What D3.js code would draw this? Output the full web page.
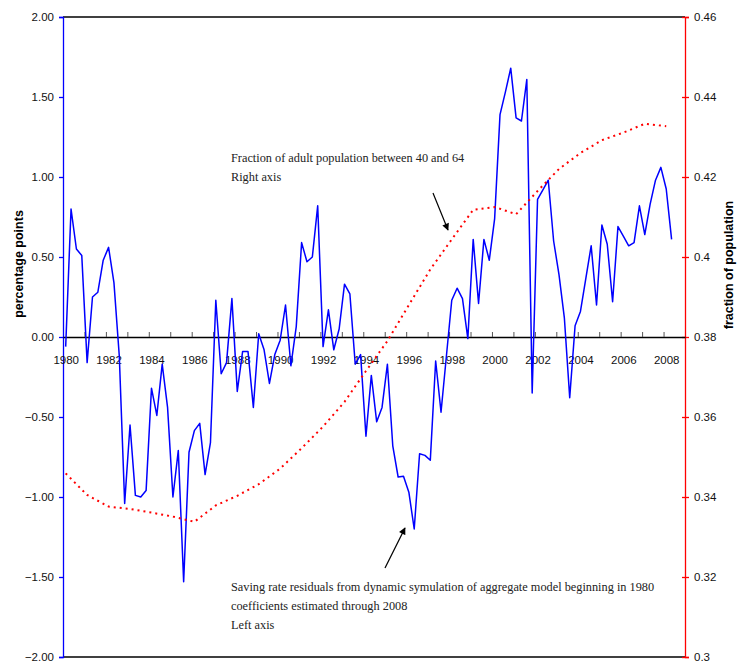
<!DOCTYPE html>
<html>
<head>
<meta charset="utf-8">
<script src="https://cdn.jsdelivr.net/npm/d3@7"></script>
<style>
  body { margin: 0; background: #fff; }
  svg { display: block; }
  .tick text { font-family: Arial, "Liberation Sans", sans-serif; font-size: 11.5px; fill: #111; }
  .note { font-family: "Times New Roman", "Liberation Serif", serif; font-size: 12.3px; fill: #222; }
  .title { font-family: Arial, "Liberation Sans", sans-serif; font-size: 12.5px; font-weight: bold; fill: #000; }
</style>
</head>
<body>
<svg id="chart" width="739" height="666"></svg>
<script>
// saving rate residuals, quarterly from 1980Q1 (left axis, percentage points)
const residuals = [
  -0.06, 0.80, 0.55, 0.51, -0.16, 0.25, 0.28, 0.48,
  0.56, 0.34, -0.12, -1.04, -0.55, -0.99, -1.00, -0.96,
  -0.32, -0.49, -0.17, -0.44, -1.00, -0.71, -1.53, -0.72,
  -0.585, -0.54, -0.86, -0.66, 0.23, -0.23, -0.16, 0.24,
  -0.34, -0.09, -0.09, -0.44, 0.02, -0.08, -0.29, -0.11,
  -0.02, 0.20, -0.18, 0.065, 0.59, 0.47, 0.50, 0.82,
  -0.06, 0.17, -0.08, 0.05, 0.33, 0.27, -0.17, -0.11,
  -0.62, -0.24, -0.53, -0.44, -0.17, -0.68, -0.875, -0.87,
  -0.97, -1.20, -0.73, -0.74, -0.77, -0.15, -0.47, -0.12,
  0.23, 0.305, 0.24, -0.01, 0.61, 0.21, 0.61, 0.48,
  0.74, 1.39, 1.53, 1.68, 1.37, 1.35, 1.61, -0.35,
  0.86, 0.92, 0.98, 0.60, 0.39, 0.12, -0.38, 0.07,
  0.16, 0.365, 0.57, 0.20, 0.70, 0.58, 0.22, 0.69,
  0.63, 0.57, 0.59, 0.82, 0.64, 0.83, 0.98, 1.06,
  0.925, 0.61
];

// fraction of adult population aged 40-64, read at the first quarter of each year (right axis)
const popYears = [
  1980, 1981, 1982, 1983, 1984, 1985, 1986, 1987, 1988, 1989,
  1990, 1991, 1992, 1993, 1994, 1995, 1996, 1997, 1998, 1999,
  2000, 2001, 2002, 2003, 2004, 2005, 2006, 2007, 2008
];
const popShare = [
  0.3459, 0.3405, 0.3376, 0.3370, 0.3361, 0.3351, 0.3338, 0.3379, 0.3403, 0.3432,
  0.3471, 0.3522, 0.3576, 0.3638, 0.3715, 0.3790, 0.3880, 0.3969, 0.4044, 0.4118,
  0.4125, 0.4107, 0.4165, 0.4220, 0.4260, 0.4292, 0.4311, 0.4333, 0.4327
];

const yearLabels = ["1980", "1982", "1984", "1986", "1988", "1990", "1992", "1994",
  "1996", "1998", "2000", "2002", "2004", "2006", "2008"];
const leftTicks = [2, 1.5, 1, 0.5, 0, -0.5, -1, -1.5, -2];
const rightTicks = ["0.46", "0.44", "0.42", "0.4", "0.38", "0.36", "0.34", "0.32", "0.3"];

const firstYear = 1980;
const nQuarters = 116;   // 1980Q1 .. 2008Q4

const width = 739, height = 666;
const margin = {top: 17, right: 54, bottom: 9, left: 63};

const svg = d3.select("#chart");

const x = d3.scaleLinear()
  .domain([0, nQuarters])
  .range([margin.left, width - margin.right]);
const yL = d3.scaleLinear()
  .domain([-2, 2])
  .range([height - margin.bottom, margin.top]);
const yR = d3.scaleLinear()
  .domain([0.3, 0.46])
  .range([height - margin.bottom, margin.top]);

// frame top and bottom
svg.append("g")
  .selectAll("line")
  .data(yL.range())
  .join("line")
  .attr("x1", x.range()[0]).attr("x2", x.range()[1])
  .attr("y1", d => d).attr("y2", d => d)
  .attr("stroke", "#000").attr("stroke-width", 1.3);

// left axis
const gLeft = svg.append("g")
  .attr("transform", `translate(${margin.left},0)`)
  .call(d3.axisLeft(yL).tickValues(leftTicks).tickFormat(d3.format(".2f")).tickSize(4).tickPadding(5));
gLeft.select(".domain").attr("stroke", "#0000ff").attr("stroke-width", 1.3);
gLeft.selectAll(".tick line").attr("stroke", "#0000ff").attr("stroke-width", 1.3);

// right axis
const gRight = svg.append("g")
  .attr("transform", `translate(${width - margin.right},0)`)
  .call(d3.axisRight(yR).tickValues(rightTicks.map(Number)).tickFormat((d, i) => rightTicks[i]).tickSize(4).tickPadding(5));
gRight.select(".domain").attr("stroke", "#ff0000").attr("stroke-width", 1.3);
gRight.selectAll(".tick line").attr("x1", -3).attr("stroke", "#ff0000").attr("stroke-width", 1.3);

// category axis on the zero line
const gX = svg.append("g")
  .attr("transform", `translate(0,${yL(0)})`)
  .call(d3.axisTop(x).tickValues(d3.range(4, nQuarters, 4)).tickFormat("").tickSize(5).tickSizeOuter(0));
gX.select(".domain").attr("stroke", "#000").attr("stroke-width", 1.3);
gX.selectAll(".tick line").attr("stroke", "#555");

svg.append("g")
  .attr("transform", `translate(0,${yL(0)})`)
  .call(d3.axisBottom(x)
    .tickValues(yearLabels.map(y => (+y - firstYear) * 4 + 0.5))
    .tickFormat((d, i) => yearLabels[i])
    .tickSize(0).tickPadding(19))
  .call(g => g.select(".domain").remove());

// series
const blueLine = d3.line()
  .x((d, i) => x(i + 0.5))
  .y(d => yL(d));
svg.append("path")
  .datum(residuals)
  .attr("fill", "none")
  .attr("stroke", "#0000ff")
  .attr("stroke-width", 1.5)
  .attr("stroke-linejoin", "round")
  .attr("d", blueLine);

const redLine = d3.line()
  .x((d, i) => x((popYears[i] - firstYear) * 4 + 0.5))
  .y(d => yR(d));
svg.append("path")
  .datum(popShare)
  .attr("fill", "none")
  .attr("stroke", "#ff0000")
  .attr("stroke-width", 2)
  .attr("stroke-dasharray", "2,4")
  .attr("d", redLine);

// axis titles
svg.append("text")
  .attr("class", "title")
  .attr("transform", "translate(23,264) rotate(-90)")
  .attr("text-anchor", "middle")
  .text("percentage points");
svg.append("text")
  .attr("class", "title")
  .attr("transform", "translate(733,265) rotate(-90)")
  .attr("text-anchor", "middle")
  .text("fraction of population");

// annotations
svg.append("defs").append("marker")
  .attr("id", "head")
  .attr("viewBox", "0 0 10 10")
  .attr("refX", 9).attr("refY", 5)
  .attr("markerWidth", 8).attr("markerHeight", 7)
  .attr("markerUnits", "userSpaceOnUse")
  .attr("orient", "auto")
  .append("path")
  .attr("d", "M0,0L10,5L0,10z")
  .attr("fill", "#000");

const notes = [
  {x: 231, y: 162, lines: ["Fraction of adult population between 40 and 64", "Right axis"]},
  {x: 231, y: 591, lines: ["Saving rate residuals from dynamic symulation of aggregate model beginning in 1980",
    "coefficients estimated through 2008", "Left axis"]}
];
notes.forEach(n => {
  svg.append("text")
    .attr("class", "note")
    .selectAll("tspan")
    .data(n.lines)
    .join("tspan")
    .attr("x", n.x)
    .attr("y", (d, i) => n.y + i * 19)
    .text(d => d);
});

const arrows = [
  {x1: 433, y1: 193, x2: 448, y2: 230},
  {x1: 385, y1: 568, x2: 405, y2: 528}
];
svg.append("g")
  .selectAll("line")
  .data(arrows)
  .join("line")
  .attr("x1", d => d.x1).attr("y1", d => d.y1)
  .attr("x2", d => d.x2).attr("y2", d => d.y2)
  .attr("stroke", "#000").attr("stroke-width", 1.2)
  .attr("marker-end", "url(#head)");
</script>
</body>
</html>
